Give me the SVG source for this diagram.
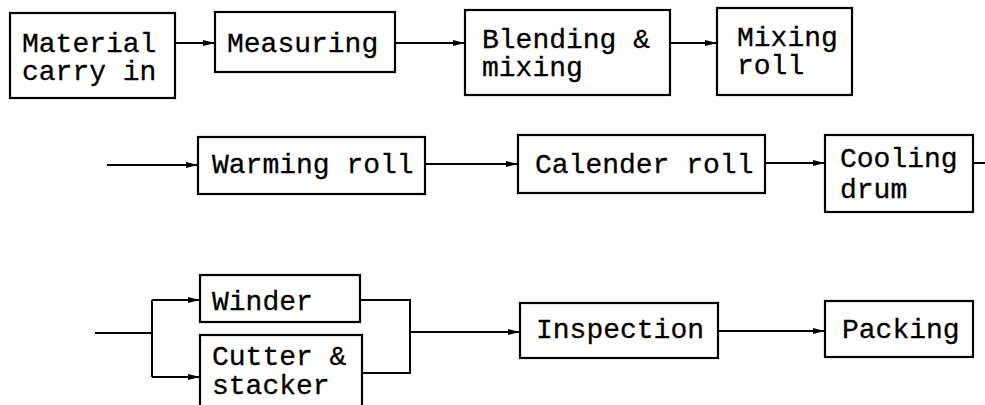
<svg xmlns="http://www.w3.org/2000/svg" width="985" height="405" viewBox="0 0 985 405">
<style>
.box{fill:#fff;stroke:#000;stroke-width:2.2}
.t{font-family:"Liberation Mono","Courier New",monospace;font-size:28px;fill:#000;stroke:#000;stroke-width:0.3}
.c{fill:none;stroke:#000;stroke-width:2}
</style>
<defs>
<marker id="ah" viewBox="0 0 12 8" refX="12" refY="4" markerWidth="12" markerHeight="8" markerUnits="userSpaceOnUse" orient="auto">
<path d="M0,1 L12,4 L0,7 Z" fill="#000"/>
</marker>
</defs>
<rect width="985" height="405" fill="#fff"/>
<g id="connectors">
<path class="c" d="M175,43 H215" marker-end="url(#ah)"/>
<path class="c" d="M395,43 H465" marker-end="url(#ah)"/>
<path class="c" d="M670,43 H717" marker-end="url(#ah)"/>
<path class="c" d="M107,165 H198" marker-end="url(#ah)"/>
<path class="c" d="M425,164 H518" marker-end="url(#ah)"/>
<path class="c" d="M765,163 H825" marker-end="url(#ah)"/>
<path class="c" d="M973,163 H985"/>
<path class="c" d="M95,333 H152"/>
<path class="c" d="M152,300 V377"/>
<path class="c" d="M152,300 H200" marker-end="url(#ah)"/>
<path class="c" d="M152,377 H200" marker-end="url(#ah)"/>
<path class="c" d="M360,300 H410 V373 H362"/>
<path class="c" d="M410,332 H520" marker-end="url(#ah)"/>
<path class="c" d="M718,331 H825" marker-end="url(#ah)"/>
</g>
<g id="material">
<rect class="box" x="10" y="13" width="165" height="85"/>
<text class="t" x="22" y="52">Material</text>
<text class="t" x="22" y="80">carry in</text>
</g>
<g id="measuring">
<rect class="box" x="215" y="12" width="180" height="60"/>
<text class="t" x="227" y="52">Measuring</text>
</g>
<g id="blending">
<rect class="box" x="465" y="10" width="205" height="85"/>
<text class="t" x="482" y="48">Blending &amp;</text>
<text class="t" x="482" y="76">mixing</text>
</g>
<g id="mixingroll">
<rect class="box" x="717" y="8" width="135" height="87"/>
<text class="t" x="737" y="46">Mixing</text>
<text class="t" x="737" y="74">roll</text>
</g>
<g id="warming">
<rect class="box" x="198" y="137" width="227" height="57"/>
<text class="t" x="212" y="173">Warming roll</text>
</g>
<g id="calender">
<rect class="box" x="518" y="135" width="247" height="58"/>
<text class="t" x="535" y="173">Calender roll</text>
</g>
<g id="cooling">
<rect class="box" x="825" y="135" width="148" height="77"/>
<text class="t" x="840" y="167">Cooling</text>
<text class="t" x="840" y="198">drum</text>
</g>
<g id="winder">
<rect class="box" x="200" y="275" width="160" height="47"/>
<text class="t" x="212" y="310">Winder</text>
</g>
<g id="cutter">
<rect class="box" x="200" y="335" width="162" height="80"/>
<text class="t" x="212" y="365">Cutter &amp;</text>
<text class="t" x="212" y="394">stacker</text>
</g>
<g id="inspection">
<rect class="box" x="520" y="303" width="198" height="55"/>
<text class="t" x="536" y="338">Inspection</text>
</g>
<g id="packing">
<rect class="box" x="825" y="301" width="148" height="56"/>
<text class="t" x="842" y="338">Packing</text>
</g>
</svg>
